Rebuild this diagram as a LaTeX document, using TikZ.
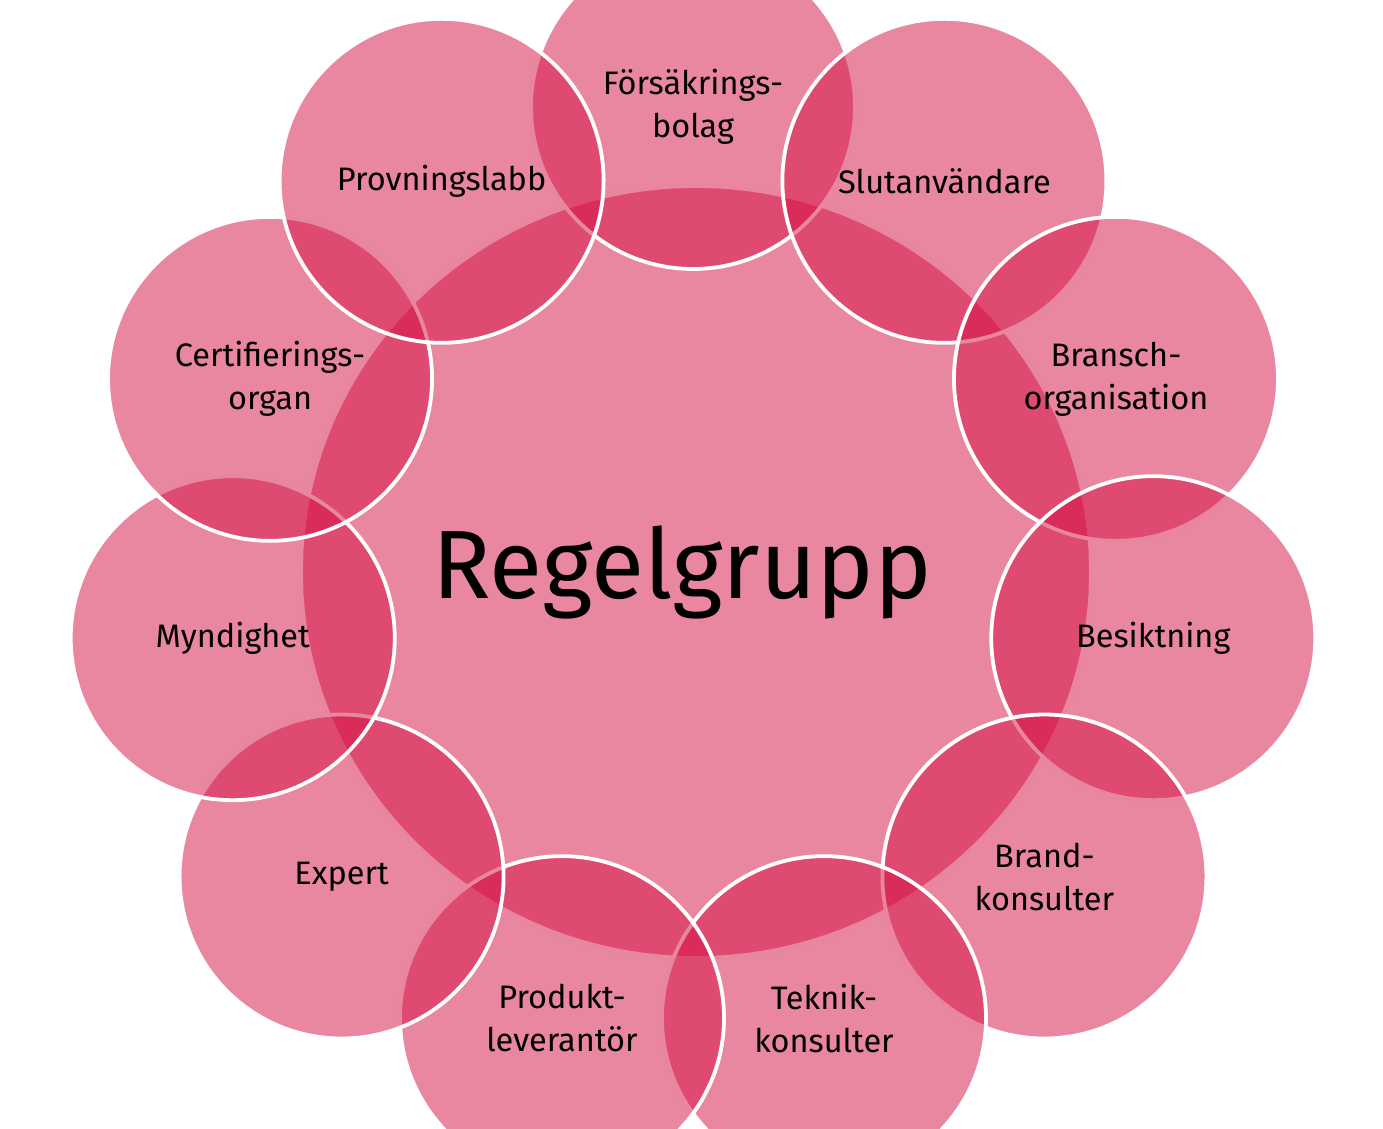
\documentclass[tikz,border=0pt]{standalone}
\usepackage{fontspec}
\setmainfont{Fira Sans}
\usetikzlibrary{shapes.geometric,calc}
\definecolor{bubblepink}{RGB}{212,15,65}

\begin{document}
\begin{tikzpicture}[x=1pt,y=-1pt,
    bubble/.style={circle,draw=white,line width=3.8pt,fill=bubblepink,fill opacity=0.5,text opacity=1,
        minimum size=324pt,inner sep=0pt,align=center,font=\fontsize{32.5}{43}\selectfont},
    hub/.style={bubble,ellipse,minimum width=790pt,minimum height=772pt,font=\fontsize{97}{110}\selectfont}]
    \useasboundingbox (0,0) rectangle (1383,1128);
    \clip (0,0) rectangle (1383,1128);
    \node[hub] (regel) at (696,572) {\raisebox{-7pt}{Regelgrupp}\hspace*{28pt}};
    \coordinate (ring) at (693,572);
    \foreach \name/\txt [count=\i from 0] in {
        fors/{Försäkrings-\\bolag},
        slut/{Slutanvändare},
        bransch/{Bransch-\\organisation},
        besikt/{Besiktning},
        brand/{Brand-\\konsulter},
        teknik/{Teknik-\\konsulter},
        produkt/{Produkt-\\leverantör},
        expert/{Expert},
        myndig/{Myndighet},
        cert/{Certifierings-\\organ},
        provlab/{Provningslabb}}
        \node[bubble] (\name) at ($(ring)+(-90+\i*360/11:465)$) {\txt};
\end{tikzpicture}
\end{document}
